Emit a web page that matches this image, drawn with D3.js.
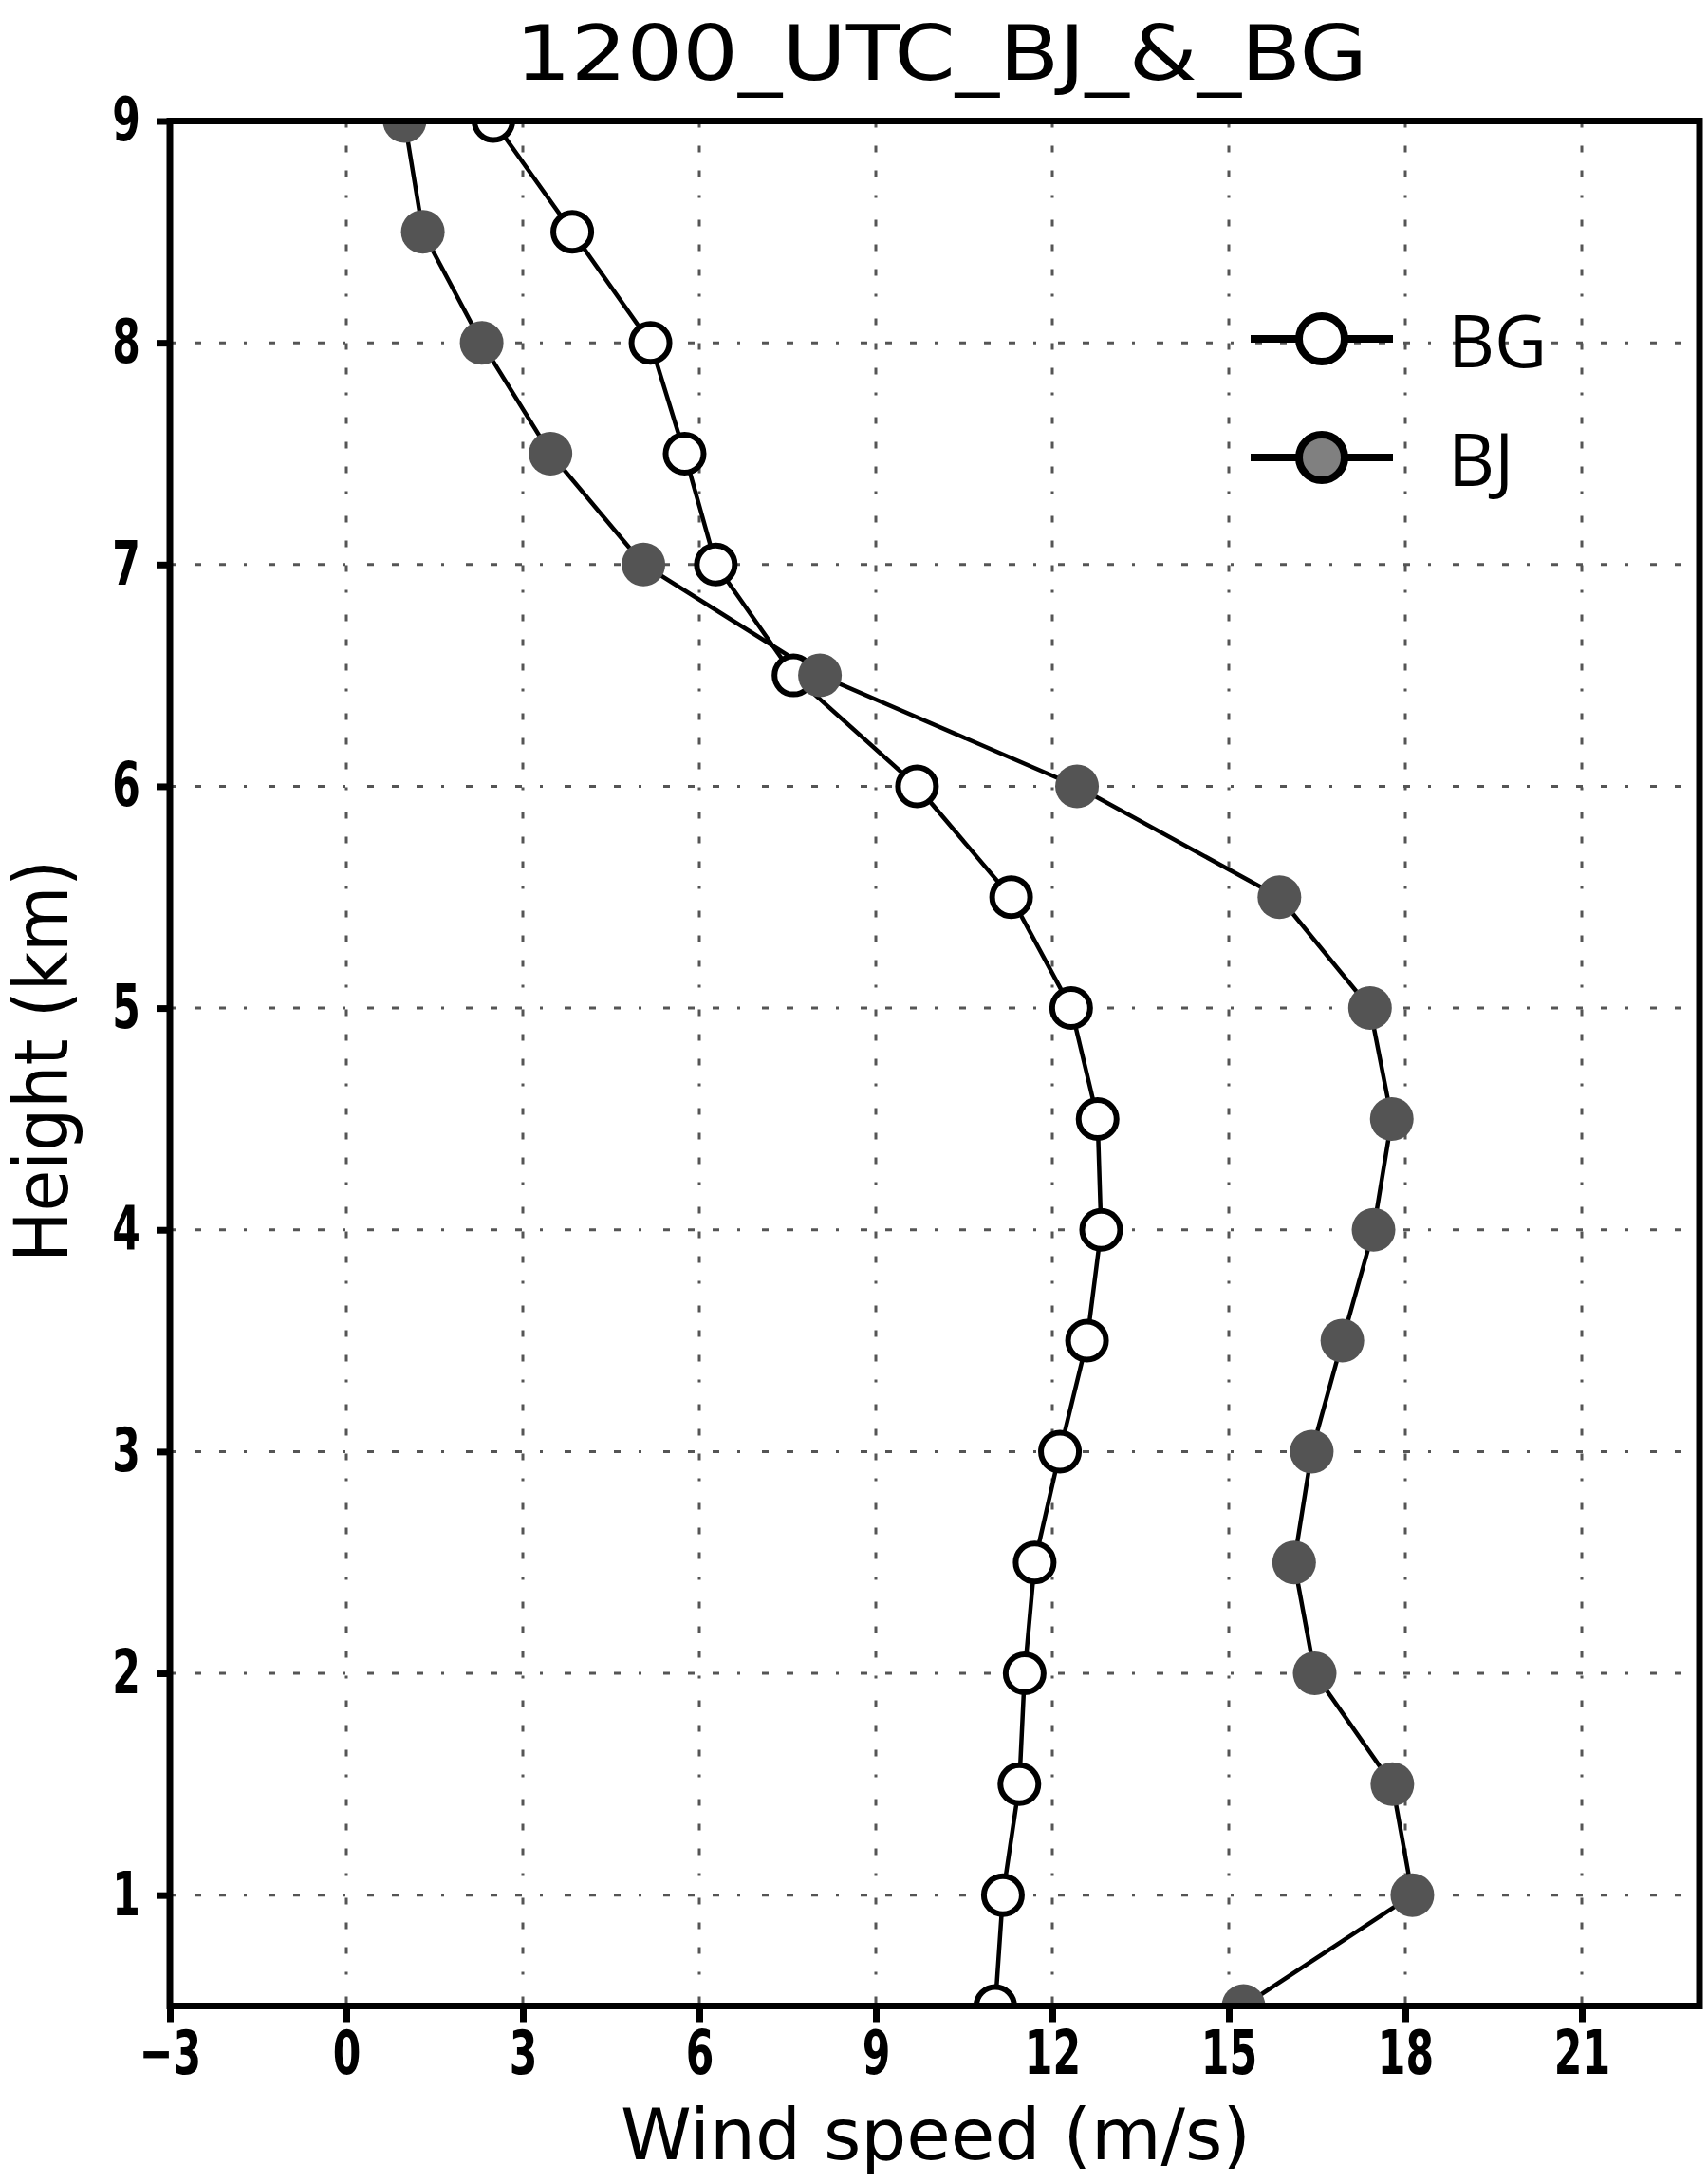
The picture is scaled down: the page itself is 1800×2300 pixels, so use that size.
<!DOCTYPE html>
<html>
<head>
<meta charset="utf-8">
<script src="https://cdn.jsdelivr.net/npm/d3@7"></script>
<style>
  body { margin: 0; background: #fff; }
</style>
</head>
<body>
<svg id="chart"></svg>
<script>

// heights (km) where both soundings were sampled
var heights = [0.5, 1, 1.5, 2, 2.5, 3, 3.5, 4, 4.5, 5, 5.5, 6, 6.5, 7, 7.5, 8, 8.5, 9]

// wind speed (m/s) for each station, same order as heights
var bgSpeed = [11.03, 11.16, 11.44, 11.53, 11.70, 12.13, 12.59, 12.83, 12.77, 12.32, 11.30, 9.70, 7.60, 6.28, 5.75, 5.17, 3.84, 2.50]
var bjSpeed = [15.25, 18.12, 17.78, 16.46, 16.11, 16.41, 16.93, 17.46, 17.77, 17.40, 15.86, 12.42, 8.05, 5.05, 3.47, 2.30, 1.30, 0.99]

var xTicks = [-3, 0, 3, 6, 9, 12, 15, 18, 21]
var yTicks = [1, 2, 3, 4, 5, 6, 7, 8, 9]
var seriesNames = ["BG", "BJ"]

var titleText = "1200_UTC_BJ_&_BG"
var xLabel = "Wind speed (m/s)"
var yLabel = "Height (km)"

var dimensions = {
        width: 1800,
        height: 2300,
        margin: {
                top: 127.5,
                bottom: 186.5,
                right: 9,
                left: 179
        }
}
dimensions.boundedWidth = dimensions.width - dimensions.margin.left - dimensions.margin.right
dimensions.boundedHeight = dimensions.height - dimensions.margin.top - dimensions.margin.bottom

var tickFont = "'Liberation Sans Narrow', 'DejaVu Sans Condensed', 'Arial Narrow', sans-serif"
var squeeze = 0.74   // tick digits in the original are very narrow

var svg = d3.select("#chart")
        .attr("width", dimensions.width)
        .attr("height", dimensions.height)
        .style("background", "#fff")

var bounds = svg.append("g")
        .attr("transform", "translate(" + dimensions.margin.left + "," + dimensions.margin.top + ")")

var xScale = d3.scaleLinear()
        .domain([-3, 23])
        .range([0, dimensions.boundedWidth])

var yScale = d3.scaleLinear()
        .domain([0.5, 9])
        .range([dimensions.boundedHeight, 0])

// clip so the end markers get cut by the frame like the original
svg.append("defs").append("clipPath")
        .attr("id", "plotClip")
        .append("rect")
        .attr("width", dimensions.boundedWidth)
        .attr("height", dimensions.boundedHeight)

// dash-dot grid
var gridDash = "7,19,7,19,7,19,3,23"
bounds.append("g")
        .selectAll("line")
        .data(xTicks.filter(function(d) { return d > -3 }))
        .enter()
        .append("line")
        .attr("x1", function(d) { return xScale(d) })
        .attr("x2", function(d) { return xScale(d) })
        .attr("y1", 0)
        .attr("y2", dimensions.boundedHeight)
        .attr("stroke", "#555")
        .attr("stroke-width", 3)
        .attr("stroke-dasharray", gridDash)

bounds.append("g")
        .selectAll("line")
        .data(yTicks.filter(function(d) { return d < 9 }))
        .enter()
        .append("line")
        .attr("x1", 0)
        .attr("x2", dimensions.boundedWidth)
        .attr("y1", function(d) { return yScale(d) })
        .attr("y2", function(d) { return yScale(d) })
        .attr("stroke", "#555")
        .attr("stroke-width", 3)
        .attr("stroke-dasharray", gridDash)

var bgData = heights.map(function(h, i) { return {h: h, v: bgSpeed[i]} })
var bjData = heights.map(function(h, i) { return {h: h, v: bjSpeed[i]} })

var line = d3.line()
        .x(function(d) { return xScale(d.v) })
        .y(function(d) { return yScale(d.h) })

var plot = bounds.append("g")
        .attr("clip-path", "url(#plotClip)")

plot.append("path")
        .datum(bgData)
        .attr("d", line)
        .attr("fill", "none")
        .attr("stroke", "#000")
        .attr("stroke-width", 4.5)

plot.append("path")
        .datum(bjData)
        .attr("d", line)
        .attr("fill", "none")
        .attr("stroke", "#000")
        .attr("stroke-width", 4.5)

plot.selectAll(".bg")
        .data(bgData)
        .enter()
        .append("circle")
        .attr("class", "bg")
        .attr("cx", function(d) { return xScale(d.v) })
        .attr("cy", function(d) { return yScale(d.h) })
        .attr("r", 20)
        .attr("fill", "#fff")
        .attr("stroke", "#000")
        .attr("stroke-width", 6)

plot.selectAll(".bj")
        .data(bjData)
        .enter()
        .append("circle")
        .attr("class", "bj")
        .attr("cx", function(d) { return xScale(d.v) })
        .attr("cy", function(d) { return yScale(d.h) })
        .attr("r", 23)
        .attr("fill", "#545454")

// axes
var yAxis = bounds.append("g")
        .call(d3.axisLeft(yScale).tickValues(yTicks).tickSize(14).tickPadding(17).tickFormat(d3.format("d")))
var xAxis = bounds.append("g")
        .attr("transform", "translate(0," + dimensions.boundedHeight + ")")
        .call(d3.axisBottom(xScale).tickValues(xTicks).tickSize(17).tickPadding(9).tickFormat(function(d) { return d < 0 ? "\u2212" + Math.abs(d) : d }))

;[xAxis, yAxis].forEach(function(ax) {
        ax.select(".domain").remove()
        ax.selectAll(".tick line")
                .attr("stroke", "#000")
                .attr("stroke-width", 7)
        ax.selectAll(".tick text")
                .attr("fill", "#000")
                .attr("transform", "scale(" + squeeze + ",1)")
                .style("font-family", tickFont)
                .style("font-weight", "bold")
                .style("font-size", "64px")
})
// undo the squeeze on the y label offset so they stay next to the axis
yAxis.selectAll(".tick text")
        .attr("x", -31 / squeeze)

// frame
bounds.append("rect")
        .attr("width", dimensions.boundedWidth)
        .attr("height", dimensions.boundedHeight)
        .attr("fill", "none")
        .attr("stroke", "#000")
        .attr("stroke-width", 7)

// titles
svg.append("text")
        .attr("x", 992)
        .attr("y", 84)
        .attr("text-anchor", "middle")
        .attr("textLength", 898)
        .attr("lengthAdjust", "spacingAndGlyphs")
        .style("font-family", tickFont)
        .style("font-size", "80px")
        .text(titleText)

svg.append("text")
        .attr("x", 986)
        .attr("y", 2275)
        .attr("text-anchor", "middle")
        .attr("textLength", 664)
        .attr("lengthAdjust", "spacingAndGlyphs")
        .style("font-family", tickFont)
        .style("font-size", "74px")
        .text(xLabel)

svg.append("text")
        .attr("transform", "translate(71,1118) rotate(-90)")
        .attr("text-anchor", "middle")
        .attr("textLength", 424)
        .attr("lengthAdjust", "spacingAndGlyphs")
        .style("font-family", tickFont)
        .style("font-size", "78px")
        .text(yLabel)

// legend
var legend = svg.append("g")
        .selectAll("g")
        .data(seriesNames)
        .enter()
        .append("g")
        .attr("transform", function(d, i) { return "translate(1318," + (357 + i * 125) + ")" })

legend.append("line")
        .attr("x1", 0)
        .attr("x2", 150)
        .attr("stroke", "#000")
        .attr("stroke-width", 8)

legend.append("circle")
        .attr("cx", 75)
        .attr("r", 24)
        .attr("fill", function(d) { return d == "BG" ? "#fff" : "#808080" })
        .attr("stroke", "#000")
        .attr("stroke-width", 8)

legend.append("text")
        .attr("x", 208)
        .attr("y", 30)
        .style("font-family", "'Open Sans', 'Noto Sans', sans-serif")
        .style("font-size", "76px")
        .text(function(d) { return d })

</script>
</body>
</html>
